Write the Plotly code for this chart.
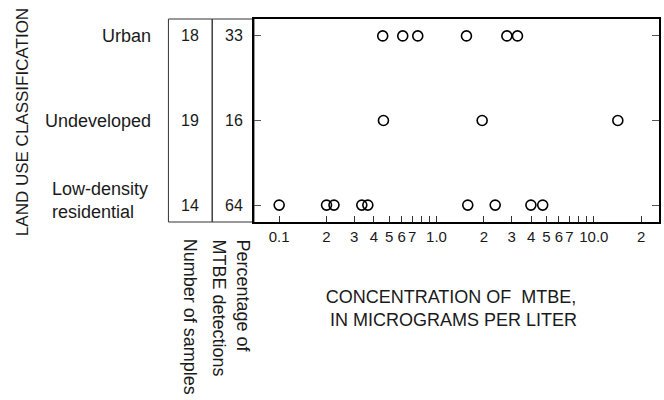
import plotly.graph_objects as go

# ---- data ----
categories = ["Low-density residential", "Undeveloped", "Urban"]
row_labels = ["Low-density<br>residential", "Undeveloped", "Urban"]
n_samples = [14, 19, 18]
pct_detect = [64, 16, 33]

conc_lowdensity = [0.1, 0.2, 0.223, 0.335, 0.366, 1.58, 2.36, 3.98, 4.73]
conc_undeveloped = [0.46, 1.95, 14.2]
conc_urban = [0.455, 0.61, 0.76, 1.55, 2.8, 3.27]

tick_values = [0.1, 0.2, 0.3, 0.4, 0.5, 0.6, 0.7, 0.8, 0.9,
               1, 2, 3, 4, 5, 6, 7, 8, 9, 10, 20]
tick_labels = ["0.1", "2", "3", "4", "5", "6", "7", "", "",
               "1.0", "2", "3", "4", "5", "6", "7", "", "", "10.0", "2"]

FONT = "Liberation Sans, Arial, Helvetica, sans-serif"
TXT = "#1a1a1a"

fig = go.Figure()
series = [conc_lowdensity, conc_undeveloped, conc_urban]
for cat, vals in zip(categories, series):
    fig.add_trace(go.Scatter(
        x=vals, y=[cat] * len(vals), mode="markers",
        marker=dict(symbol="circle-open", size=10, color="black",
                    line=dict(width=1.6, color="black")),
        showlegend=False, hoverinfo="x"))

W, H = 664, 400
L, R, T, B = 254, 3, 19, 178
pw = W - L - R
ph = H - T - B


def px2paper_x(px):
    return (px - L) / pw


def px2paper_y(py):
    return (H - B - py) / ph


fig.update_layout(
    width=W, height=H,
    margin=dict(l=L, r=R, t=T, b=B),
    paper_bgcolor="white", plot_bgcolor="white",
    font=dict(family=FONT, color=TXT, size=15),
    xaxis=dict(type="log", range=[-1.160, 1.414],
               tickvals=tick_values, ticktext=tick_labels,
               ticks="inside", ticklen=6, tickwidth=1, tickcolor="#333",
               showline=True, linewidth=2, linecolor="black", mirror=True,
               showgrid=False, zeroline=False,
               tickfont=dict(size=15, family=FONT, color=TXT)),
    yaxis=dict(type="category", categoryarray=categories,
               range=[-0.2, 2.2],
               ticks="inside", ticklen=7, tickwidth=1, tickcolor="#555",
               showline=True, linewidth=2, linecolor="black", mirror="ticks",
               showgrid=False, zeroline=False, showticklabels=False),
)

# table boxes
for x0, x1 in [(168, 212), (212, 254)]:
    fig.add_shape(type="rect", xref="paper", yref="paper",
                  x0=px2paper_x(x0), x1=px2paper_x(x1), y0=0, y1=1,
                  line=dict(color="#333", width=1), layer="below")

# row labels and table numbers
for i, cat in enumerate(categories):
    if i == 0:
        fig.add_annotation(x=px2paper_x(49), xref="paper", y=cat, yref="y",
                           text=row_labels[i], showarrow=False,
                           xanchor="left", align="left", yshift=5,
                           font=dict(size=18))
    else:
        fig.add_annotation(x=px2paper_x(153), xref="paper", y=cat, yref="y",
                           text=row_labels[i], showarrow=False,
                           xanchor="right", font=dict(size=18))
    fig.add_annotation(x=px2paper_x(190), xref="paper", y=cat, yref="y",
                       text=str(n_samples[i]), showarrow=False,
                       xanchor="center", font=dict(size=16))
    fig.add_annotation(x=px2paper_x(234), xref="paper", y=cat, yref="y",
                       text=str(pct_detect[i]), showarrow=False,
                       xanchor="center", font=dict(size=16))

# rotated column headers
fig.add_annotation(x=px2paper_x(190), xref="paper", y=px2paper_y(237), yref="paper",
                   text="Number of samples", textangle=90, showarrow=False,
                   xanchor="center", yanchor="top", font=dict(size=18))
fig.add_annotation(x=px2paper_x(231), xref="paper", y=px2paper_y(237), yref="paper",
                   text="Percentage of<br>MTBE detections", textangle=90,
                   showarrow=False, align="left",
                   xanchor="center", yanchor="top", font=dict(size=18))

# axis titles
fig.add_annotation(x=px2paper_x(22), xref="paper", y=px2paper_y(122), yref="paper",
                   text="LAND USE CLASSIFICATION", textangle=-90, showarrow=False,
                   xanchor="center", yanchor="middle", font=dict(size=17))
fig.add_annotation(x=px2paper_x(452), xref="paper", y=px2paper_y(308), yref="paper",
                   text="CONCENTRATION OF  MTBE,<br> IN MICROGRAMS PER LITER",
                   showarrow=False, xanchor="center", yanchor="middle",
                   font=dict(size=18))

fig.write_html("out.html",
               config={"displayModeBar": False},
               post_script="document.body.style.margin='0';document.body.style.overflow='hidden';")
